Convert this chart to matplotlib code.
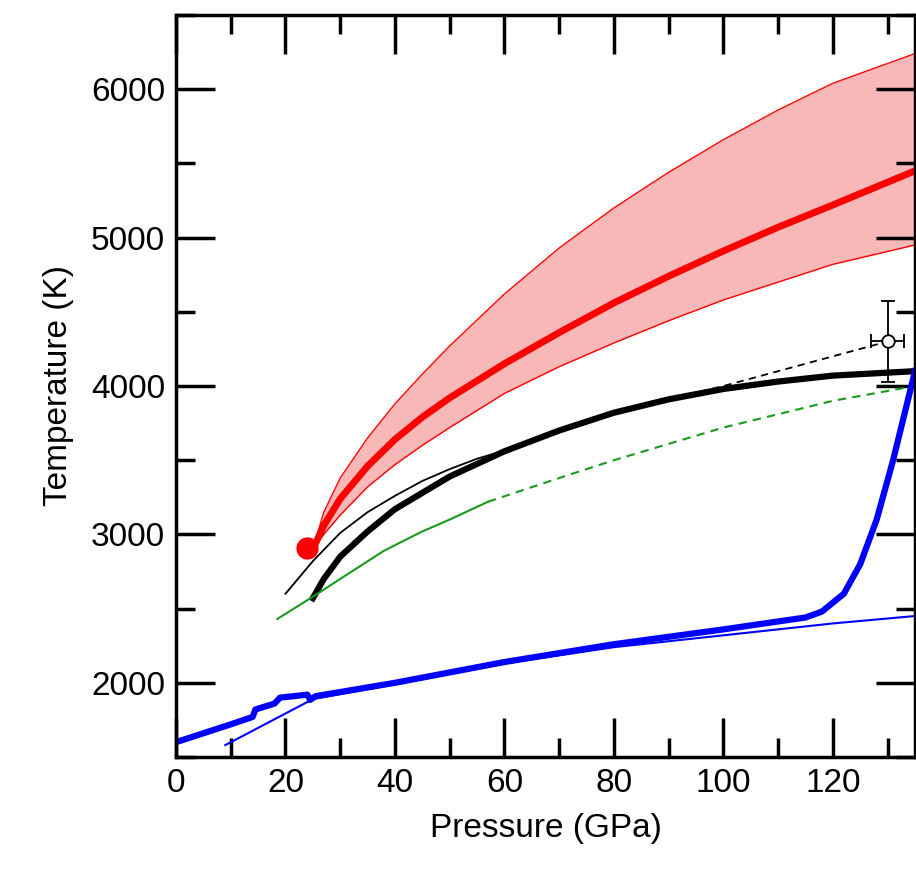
import matplotlib
matplotlib.use("Agg")
import matplotlib.pyplot as plt
from matplotlib.ticker import MultipleLocator

plt.rcParams['font.family'] = ['Liberation Sans', 'DejaVu Sans']

red_p = [25, 27, 30, 35, 40, 45, 50, 60, 70, 80, 90, 100, 110, 120, 135]
red_c = [2900, 3060, 3240, 3460, 3640, 3790, 3920, 4150, 4360, 4560, 4740, 4910, 5070, 5220, 5450]
red_hi = [2900, 3150, 3380, 3650, 3880, 4080, 4270, 4620, 4930, 5200, 5440, 5660, 5860, 6040, 6240]
red_lo = [2900, 3000, 3130, 3320, 3470, 3600, 3720, 3950, 4130, 4290, 4440, 4580, 4700, 4820, 4950]
bk_p = [25, 27, 30, 35, 40, 50, 60, 70, 80, 90, 100, 110, 120, 135]
bk_t = [2570, 2700, 2850, 3020, 3170, 3390, 3560, 3700, 3820, 3910, 3980, 4030, 4070, 4100]
bt_p = [20, 25, 30, 35, 40, 45, 50, 55, 60]
bt_t = [2600, 2820, 3010, 3150, 3260, 3360, 3440, 3510, 3565]
bd_p = [80, 100, 115, 130]
bd_t = [3820, 4000, 4150, 4300]
gs_p = [18.5, 25, 30, 38, 45, 50, 57]
gs_t = [2430, 2580, 2700, 2890, 3020, 3100, 3220]
gd_p = [57, 70, 80, 100, 120, 135]
gd_t = [3220, 3380, 3500, 3720, 3900, 4000]
b_p = [0, 5, 10, 14, 14.5, 18, 19, 24, 24.5, 25.5, 40, 60, 80, 100, 115, 118, 122, 125, 128, 131, 135]
b_t = [1600, 1660, 1720, 1770, 1820, 1860, 1900, 1920, 1885, 1910, 2000, 2140, 2260, 2360, 2440, 2480, 2600, 2800, 3100, 3500, 4100]
bn_p = [9, 25, 40, 60, 80, 100, 120, 135]
bn_t = [1580, 1890, 1990, 2130, 2240, 2320, 2400, 2450]

fig = plt.figure(figsize=(9.16, 8.71), dpi=100)
ax = fig.add_axes([176/916, 1-757/871, (915-176)/916, (757-15)/871])
ax.fill_between(red_p, red_lo, red_hi, color="#f8b8b8", lw=0)
ax.plot(red_p, red_hi, color="red", lw=1)
ax.plot(red_p, red_lo, color="red", lw=1)
ax.plot(red_p, red_c, color="red", lw=5, solid_capstyle="round")
ax.plot([24], [2905], "o", color="red", ms=15)
ax.plot(bt_p, bt_t, color="black", lw=1.3)
ax.plot(bd_p, bd_t, color="black", lw=1.3, ls=(0, (4, 3)))
ax.plot(bk_p, bk_t, color="black", lw=4.5)
ax.plot(gs_p, gs_t, color="#1a9a1a", lw=1.5)
ax.plot(gd_p, gd_t, color="#1a9a1a", lw=1.5, ls=(0, (4, 3)))
ax.plot(bn_p, bn_t, color="blue", lw=1.5)
ax.plot(b_p, b_t, color="blue", lw=4.5)
ax.errorbar([130], [4300], xerr=[[3], [3]], yerr=[[270], [270]], fmt="o", mfc="white",
            mec="black", ecolor="black", ms=9, capsize=5, lw=1.3, mew=1.3, zorder=5)
ax.set_xlim(0, 135)
ax.set_ylim(1500, 6500)
ax.xaxis.set_major_locator(MultipleLocator(20))
ax.xaxis.set_minor_locator(MultipleLocator(10))
ax.yaxis.set_major_locator(MultipleLocator(1000))
ax.yaxis.set_minor_locator(MultipleLocator(500))
ax.tick_params(which="both", direction="in", top=True, right=True, width=2.5, labelsize=24, pad=8)
ax.tick_params(which="major", length=28)
ax.tick_params(which="minor", length=14)
for s in ax.spines.values():
    s.set_linewidth(2.5)
ax.set_xlabel("Pressure (GPa)", fontsize=24, labelpad=10)
ax.set_ylabel("Temperature (K)", fontsize=24, labelpad=12)
fig.savefig("out.png", dpi=100)
